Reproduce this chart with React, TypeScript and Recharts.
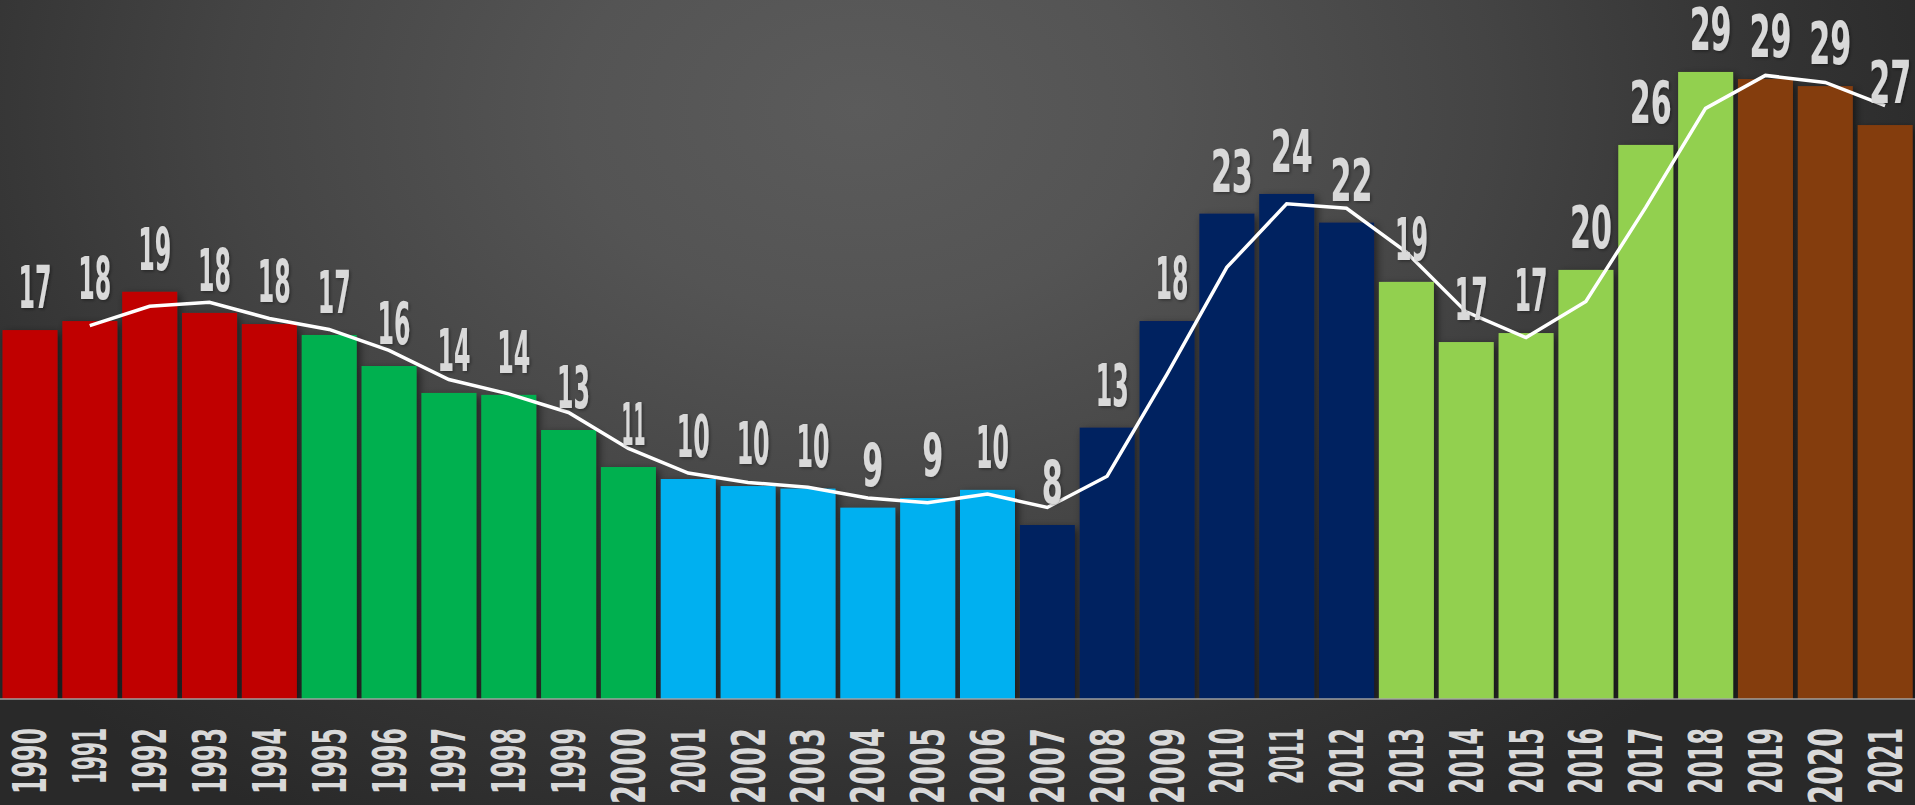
import React from 'react';
import { ComposedChart, Bar, Line, XAxis, YAxis, LabelList } from 'recharts';

const years = ['1990','1991','1992','1993','1994','1995','1996','1997','1998','1999','2000','2001','2002','2003','2004','2005','2006','2007','2008','2009','2010','2011','2012','2013','2014','2015','2016','2017','2018','2019','2020','2021'];

const values = [17.24,17.66,19.03,18.04,17.52,17.01,15.56,14.3,14.21,12.57,10.84,10.28,9.95,9.83,8.94,9.39,9.77,8.13,12.68,17.66,22.68,23.6,22.26,19.49,16.68,17.1,20.05,25.89,29.3,28.97,28.64,26.82];

const valueLabels = [17,18,19,18,18,17,16,14,14,13,11,10,10,10,9,9,10,8,13,18,23,24,22,19,17,17,20,26,29,29,29,27];

// two-period moving average line
const trend = [null,17.45,18.35,18.54,17.78,17.27,16.29,14.93,14.26,13.39,11.71,10.56,10.12,9.89,9.39,9.17,9.58,8.95,10.41,15.17,20.17,23.14,22.93,20.88,18.09,16.89,18.58,22.97,27.6,29.14,28.81,27.73];

const groups = [0,0,0,0,0,1,1,1,1,1,1,2,2,2,2,2,2,3,3,3,3,3,3,4,4,4,4,4,4,5,5,5];

const palette = ['#C00000', '#00B050', '#00B0F0', '#002060', '#92D050', '#843C0C'];

const data = years.map((year, i) => ({
  year,
  value: values[i],
  trend: trend[i],
  label: valueLabels[i],
  group: groups[i],
}));

const FONT = "'DejaVu Sans Condensed', 'Liberation Sans Narrow', 'Liberation Sans', sans-serif";
const TEXT_COLOR = '#D9D9D9';

// condensed-face glyph widths (the "1" is narrow in the reference face)
const textWidth = (s: string, narrow: number, wide: number) =>
  s.split('').reduce((w, ch) => w + (ch === '1' ? narrow : wide), 0);

const BarShape = (props: any) => {
  const { x, y, width, height, payload } = props;
  if (height <= 0) return null;
  return (
    <rect
      x={x}
      y={y}
      width={width}
      height={height}
      fill={palette[payload.group]}
      filter="url(#barShadow)"
    />
  );
};

const ValueLabel = (props: any) => {
  const { x, y, width, value } = props;
  const s = String(value);
  const cx = x + width / 2 + 5;
  const len = textWidth(s, 12, 21);
  return (
    <text
      x={cx - len / 2}
      y={y - 22}
      textLength={len}
      lengthAdjust="spacingAndGlyphs"
      fill={TEXT_COLOR}
      fontFamily={FONT}
      fontWeight="bold"
      fontSize={58}
      filter="url(#textShadow)"
    >
      {s}
    </text>
  );
};

const YearTick = (props: any) => {
  const { x, y, payload } = props;
  const s = String(payload.value);
  const len = textWidth(s, 9, 19);
  return (
    <text
      transform={`translate(${x},${y + 29}) rotate(-90)`}
      x={-len}
      y={0}
      dy="0.36em"
      textLength={len}
      lengthAdjust="spacingAndGlyphs"
      fill={TEXT_COLOR}
      fontFamily={FONT}
      fontWeight="bold"
      fontSize={46}
    >
      {s}
    </text>
  );
};

export default function App() {
  return (
    <div
      style={{
        position: 'absolute',
        left: 0,
        top: 0,
        width: 1915,
        height: 805,
        overflow: 'hidden',
        background:
          'radial-gradient(ellipse 1150px 820px at 860px 110px, #5b5b5b 0%, #545454 25%, #444444 55%, #333333 80%, #292929 100%)',
      }}
    >
      <svg width={0} height={0} style={{ position: 'absolute' }}>
        <defs>
          <filter id="barShadow" x="-30%" y="-10%" width="160%" height="130%">
            <feDropShadow dx={3} dy={3} stdDeviation={4} floodColor="#000" floodOpacity={0.55} />
          </filter>
          <filter id="textShadow" x="-30%" y="-30%" width="160%" height="160%">
            <feDropShadow dx={1.5} dy={1.5} stdDeviation={1.5} floodColor="#000" floodOpacity={0.35} />
          </filter>
        </defs>
      </svg>
      <ComposedChart
        width={1915}
        height={805}
        data={data}
        margin={{ top: 57, right: 0, bottom: 0, left: 0 }}
        barCategoryGap={2.5}
      >
        <XAxis
          dataKey="year"
          interval={0}
          height={106}
          tickLine={false}
          tickSize={0}
          tickMargin={0}
          axisLine={{ stroke: '#a6a6a6', strokeWidth: 2, strokeOpacity: 0.7 }}
          tick={<YearTick />}
        />
        <YAxis hide domain={[0, 30]} allowDataOverflow />
        <Bar dataKey="value" shape={<BarShape />} isAnimationActive={false}>
          <LabelList dataKey="label" content={<ValueLabel />} />
        </Bar>
        <Line
          dataKey="trend"
          type="linear"
          stroke="#FFFFFF"
          strokeWidth={3.5}
          dot={false}
          activeDot={false}
          isAnimationActive={false}
        />
      </ComposedChart>
    </div>
  );
}
